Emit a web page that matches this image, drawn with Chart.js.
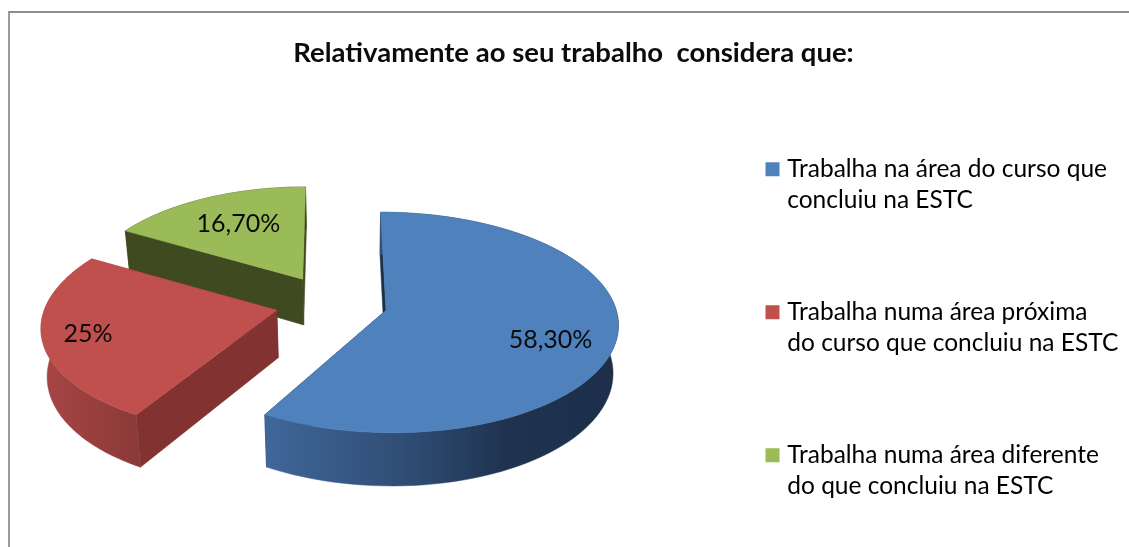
<!DOCTYPE html>
<html><head><meta charset="utf-8">
<script src="https://cdn.jsdelivr.net/npm/chart.js@4"></script>
<style>
html,body{margin:0;padding:0;background:#fff;overflow:hidden}
#frame{position:absolute;left:8px;top:11px;right:0;bottom:0;border-top:2px solid #8e8e8e;border-left:2px solid #9a9a9a}
canvas{position:absolute;left:0;top:0}
</style></head><body>
<div id="frame"></div>
<canvas id="c" width="1129" height="547"></canvas>
<script>
const titleText = 'Relativamente ao seu trabalho  considera que:';
const categories = [
  ['Trabalha na área do curso que','concluiu na ESTC'],
  ['Trabalha numa área próxima','do curso que concluiu na ESTC'],
  ['Trabalha numa área diferente','do que concluiu na ESTC']
];
const values = [58.3, 25, 16.7];
const valueLabels = ['58,30%', '25%', '16,70%'];
const colors = ['#4F81BD', '#C0504D', '#9BBB59'];
const radialWallColors = ['#1C3049', '#823231', '#3F4A20'];
const outerWallStops = [
  [[0,'#40679A'],[0.4,'#2F4D74'],[0.68,'#1F3350'],[1,'#1D2F49']],
  [[0,'#A64645'],[1,'#8C3A38']],
  [[0,'#3F4A20'],[1,'#3F4A20']]
];
const explode = [56, 56, 62];
const labelRadius = [0.735, 0.81, 0.65];
const labelTurn = [0.105, 0, 0.05];
const sliceStretch = [0.99, 1, 0.965];
const sliceShift = [1.5, 0, 3];
const sliceShear = [0, -0.064, 0];
const FONT = 'Lato';

// view of the tilted pie
const view = {x0:330, y0:303.5, tilt:0.465, persp:0.11, depth:47, shrink:0.98, fix:350, shearY:330};

function project(U, V, R){
  const w = 1 - view.persp*V;
  return {x:view.x0 + R*U/w, y:view.y0 + R*view.tilt*V/w, w};
}
function lower(p){
  return {x:view.fix + (p.x-view.fix)*view.shrink, y:p.y + view.depth/p.w};
}
function poly(ctx, pts, fill){
  ctx.beginPath();
  pts.forEach((p,i)=> i ? ctx.lineTo(p.x,p.y) : ctx.moveTo(p.x,p.y));
  ctx.closePath();
  ctx.fillStyle = fill; ctx.fill();
  ctx.strokeStyle = fill; ctx.lineWidth = 0.5; ctx.stroke();
}

const pie3d = {
  id:'pie3d',
  afterLayout(chart){
    const l = chart.legend;
    const pad = chart.options.plugins.legend.labels.padding;
    l.left = 770 - pad;
    l.top = 157 - pad;
    l.bottom = 800;
  },
  beforeDatasetsDraw(chart){
    const ctx = chart.ctx;
    const arcs = chart.getDatasetMeta(0).data;
    const order = [2,1,0];
    order.forEach(i=>{
      const el = arcs[i], R = el.outerRadius;
      const a0 = el.startAngle, a1 = el.endAngle, mid = (a0+a1)/2;
      const off = el.options.offset/R;
      const ox = Math.cos(mid)*off, oy = Math.sin(mid)*off;
      const apex0 = project(ox,oy,R);
      const adjust = p => ({
        x:apex0.x+(p.x-apex0.x)*sliceStretch[i]+sliceShift[i]+sliceShear[i]*(p.y-view.shearY),
        y:p.y, w:p.w});
      const top = [];
      const N = 90;
      for(let k=0;k<=N;k++){
        const a = a0+(a1-a0)*k/N;
        top.push(adjust(project(ox+Math.cos(a), oy+Math.sin(a), R)));
      }
      const apex = adjust(apex0);
      const bottom = top.map(lower), apexB = lower(apex);
      poly(ctx,[apex,top[0],bottom[0],apexB],radialWallColors[i]);
      poly(ctx,[apex,top[N],bottom[N],apexB],radialWallColors[i]);
      const xs = top.map(p=>p.x);
      const minX = Math.min(...xs), maxX = Math.max(...xs);
      const g = ctx.createLinearGradient(minX,0,maxX,0);
      outerWallStops[i].forEach(s=>g.addColorStop(s[0],s[1]));
      poly(ctx,top.concat(bottom.slice().reverse()),g);
      poly(ctx,[apex].concat(top),colors[i]);
    });
    ctx.save();
    ctx.font = '25px '+FONT;
    ctx.fillStyle = '#0b0b0b';
    ctx.textAlign = 'center';
    ctx.textBaseline = 'middle';
    arcs.forEach((el,i)=>{
      const R = el.outerRadius, mid = (el.startAngle+el.endAngle)/2, off = el.options.offset/R;
      const t = mid + labelTurn[i];
      const p = project(Math.cos(mid)*off+Math.cos(t)*labelRadius[i], Math.sin(mid)*off+Math.sin(t)*labelRadius[i], R);
      ctx.fillText(valueLabels[i], p.x, p.y);
    });
    ctx.restore();
    return false;
  }
};

new Chart(document.getElementById('c'),{
  type:'pie',
  data:{labels:categories,datasets:[{data:values,backgroundColor:colors,offset:explode,borderWidth:0}]},
  plugins:[pie3d],
  options:{
    responsive:false,animation:false,radius:231,
    layout:{padding:{left:18,right:0,top:0,bottom:0}},
    plugins:{
      tooltip:{enabled:false},
      title:{display:true,text:titleText,color:'#0b0b0b',font:{family:FONT,size:27.5,weight:'bold',lineHeight:1.2},padding:{top:37,bottom:10}},
      legend:{
        position:'right',
        align:'start',
        labels:{
          boxWidth:5,boxHeight:5,padding:81,color:'#1a1a1a',
          font:{family:FONT,size:24.5,lineHeight:31/24.5},
          generateLabels(chart){
            return categories.map((t,i)=>({text:t,fillStyle:colors[i],strokeStyle:colors[i],lineWidth:9,lineJoin:'miter',lineCap:'butt',index:i,hidden:false}));
          }
        }
      }
    }
  }
});
</script>
</body></html>
